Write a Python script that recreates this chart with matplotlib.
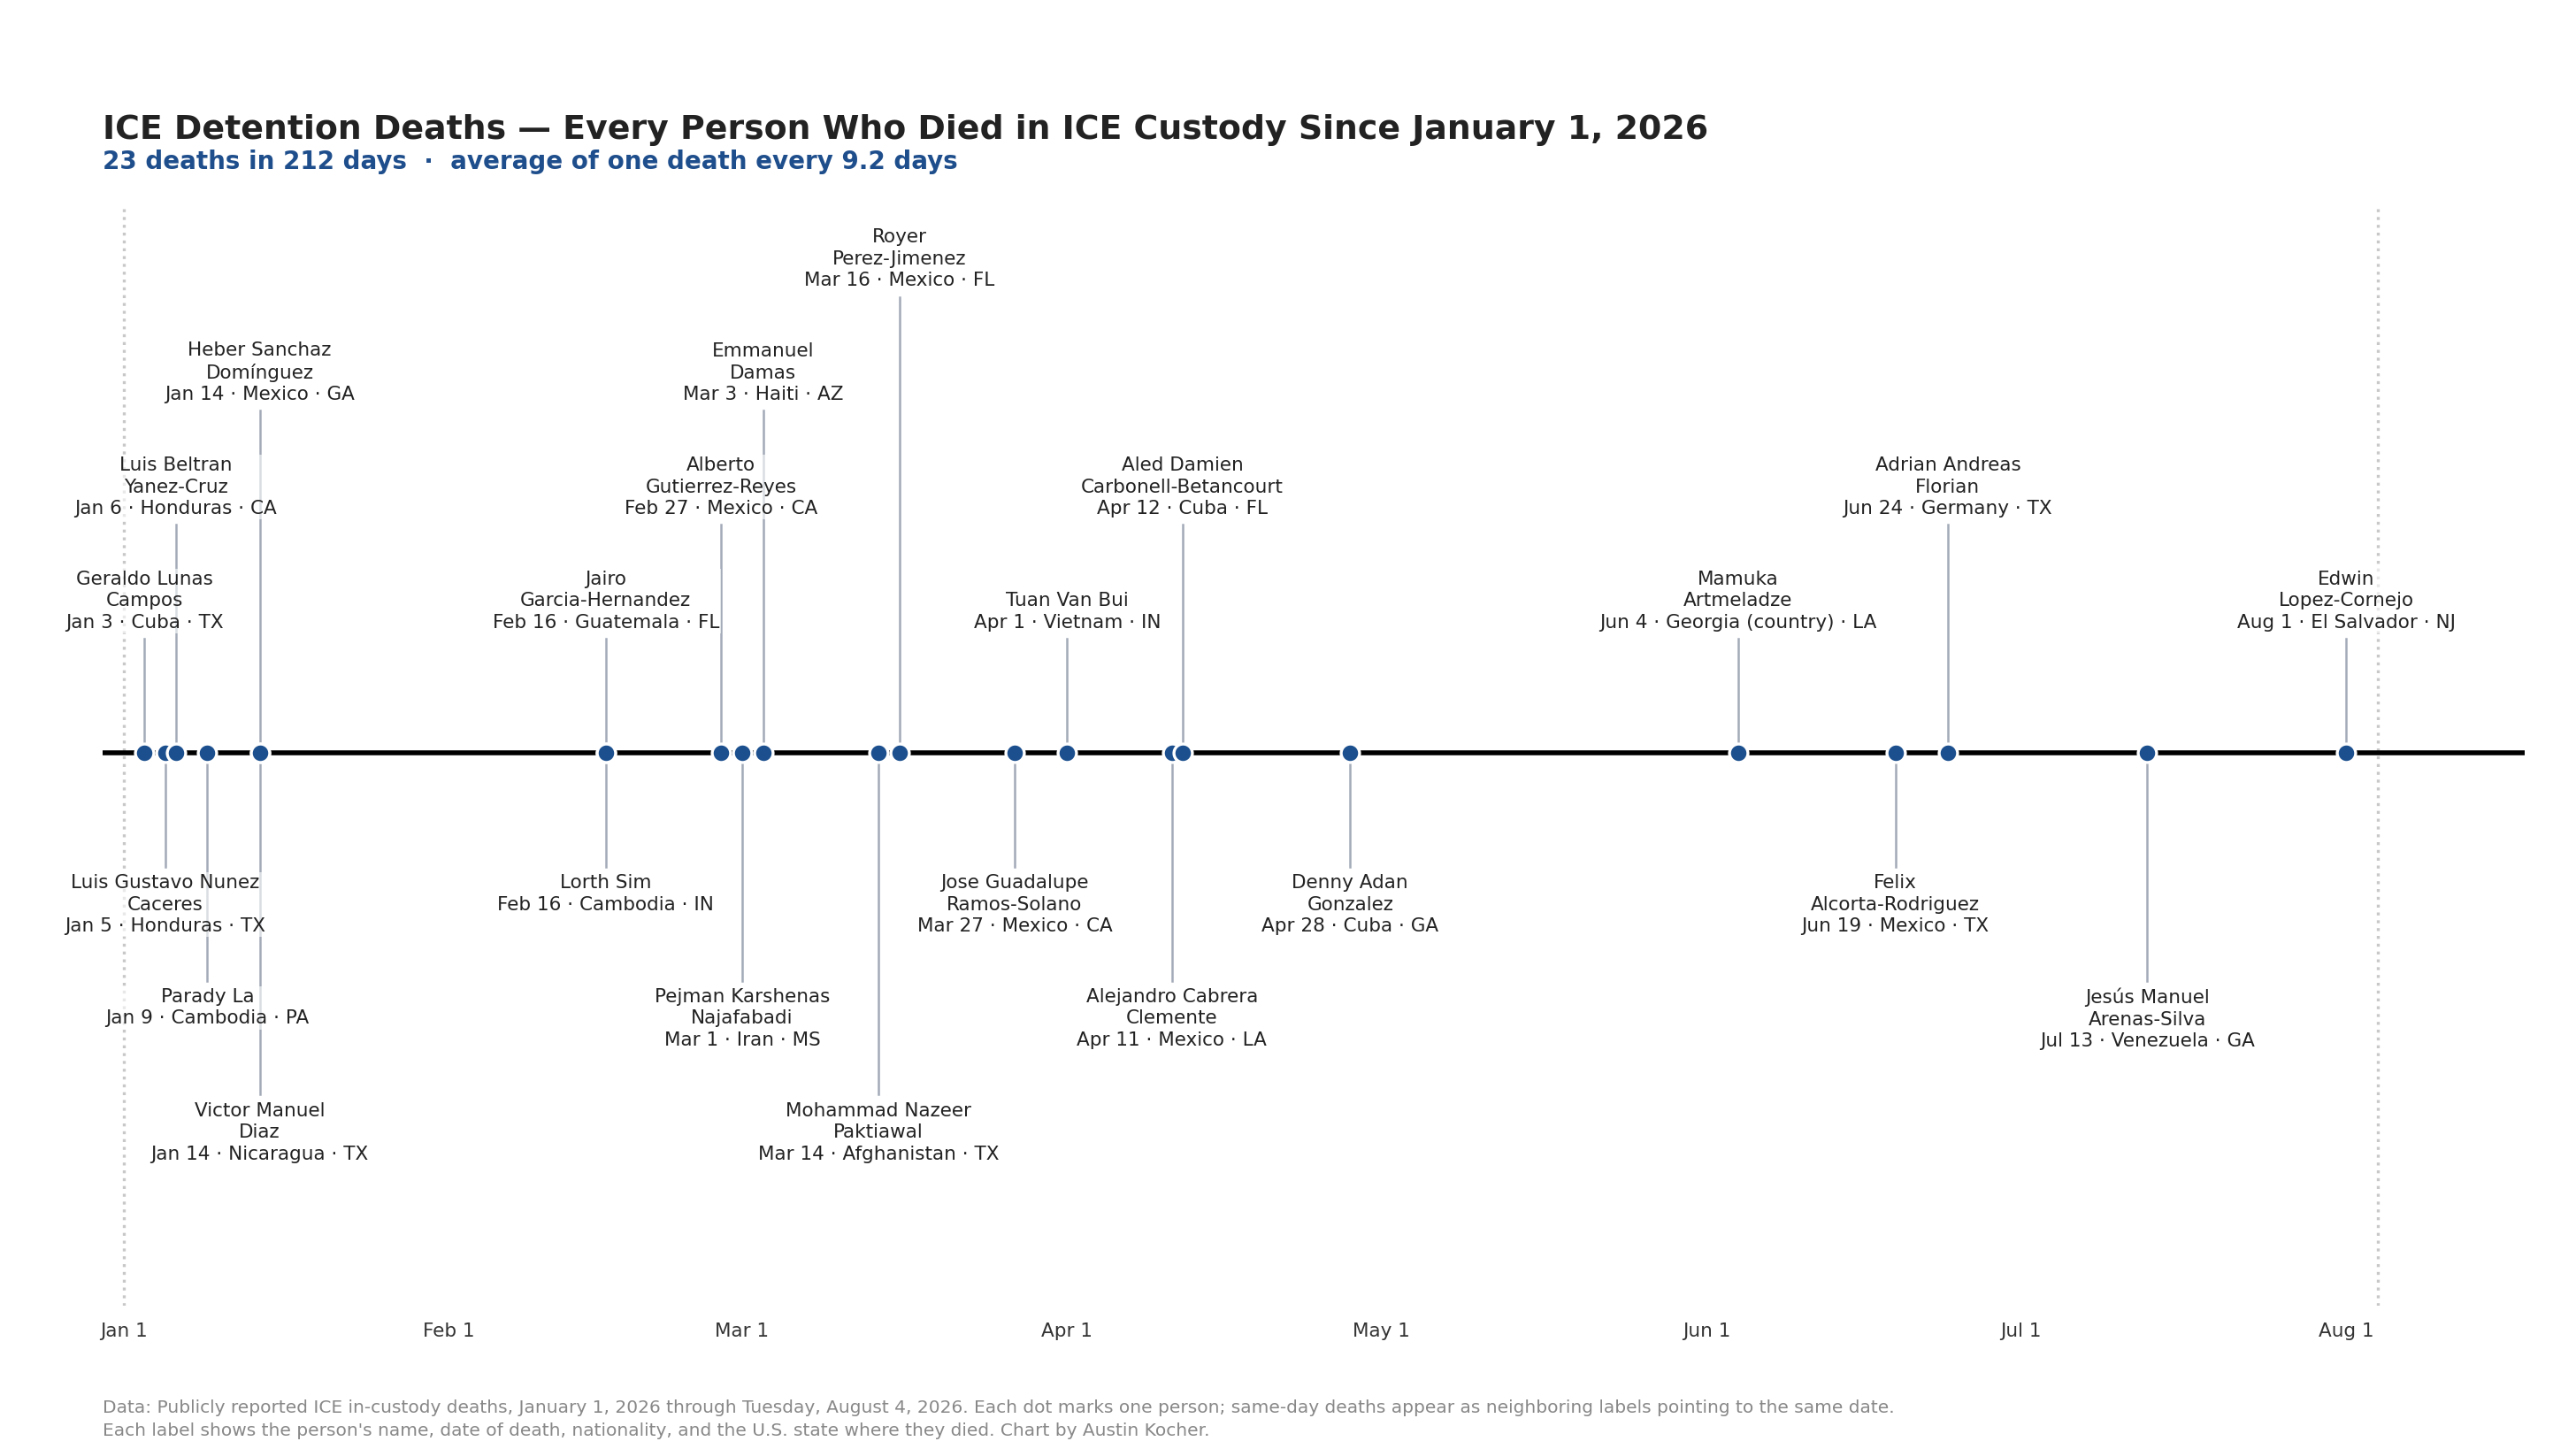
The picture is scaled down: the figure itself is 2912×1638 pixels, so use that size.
""" ICE custody deaths timeline, 2026 """
from datetime import datetime, timedelta
import matplotlib
matplotlib.use("Agg")
from matplotlib import pyplot as plt
import matplotlib.dates as mdates

# one entry per person, in date order
dates = ["2026-01-03", "2026-01-05", "2026-01-06", "2026-01-09", "2026-01-14",
         "2026-01-14", "2026-02-16", "2026-02-16", "2026-02-27", "2026-03-01",
         "2026-03-03", "2026-03-14", "2026-03-16", "2026-03-27", "2026-04-01",
         "2026-04-11", "2026-04-12", "2026-04-28", "2026-06-04", "2026-06-19",
         "2026-06-24", "2026-07-13", "2026-08-01"]
names = ["Geraldo Lunas\nCampos", "Luis Gustavo Nunez\nCaceres",
         "Luis Beltran\nYanez-Cruz", "Parady La", "Heber Sanchaz\nDomínguez",
         "Victor Manuel\nDiaz", "Jairo\nGarcia-Hernandez", "Lorth Sim",
         "Alberto\nGutierrez-Reyes", "Pejman Karshenas\nNajafabadi",
         "Emmanuel\nDamas", "Mohammad Nazeer\nPaktiawal", "Royer\nPerez-Jimenez",
         "Jose Guadalupe\nRamos-Solano", "Tuan Van Bui",
         "Alejandro Cabrera\nClemente", "Aled Damien\nCarbonell-Betancourt",
         "Denny Adan\nGonzalez", "Mamuka\nArtmeladze", "Felix\nAlcorta-Rodriguez",
         "Adrian Andreas\nFlorian", "Jesús Manuel\nArenas-Silva",
         "Edwin\nLopez-Cornejo"]
nationality = ["Cuba", "Honduras", "Honduras", "Cambodia", "Mexico", "Nicaragua",
               "Guatemala", "Cambodia", "Mexico", "Iran", "Haiti", "Afghanistan",
               "Mexico", "Mexico", "Vietnam", "Mexico", "Cuba", "Cuba",
               "Georgia (country)", "Mexico", "Germany", "Venezuela", "El Salvador"]
state = ["TX", "TX", "CA", "PA", "GA", "TX", "FL", "IN", "CA", "MS", "AZ", "TX",
         "FL", "CA", "IN", "LA", "FL", "GA", "LA", "TX", "TX", "GA", "NJ"]
# label tier: positive above the line, negative below
levels = [1, -1, 2, -2, 3, -3, 1, -1, 2, -2, 3, -3, 4, -1, 1, -2, 2, -1,
          1, -1, 2, -2, 1]

start = datetime(2026, 1, 1)
end = datetime(2026, 8, 4)
month_ticks = [datetime(2026, m, 1) for m in range(1, 9)]

dts = [datetime.strptime(d, "%Y-%m-%d") for d in dates]
n_days = (datetime(2026, 8, 1) - start).days
avg = n_days / len(dts)

dot_color = '#1b4f8e'
stem_color = '#a3abb8'

fig = plt.figure(figsize=(14.56, 8.19), dpi=200)
ax = fig.add_axes([0.040, 0.099, 0.940, 0.759])

ax.axhline(0, color='black', lw=2.0, zorder=2)
ax.axvline(start, color='#c8c8c8', lw=1.2, ls=':', zorder=1)
ax.axvline(end, color='#c8c8c8', lw=1.2, ls=':', zorder=1)

for d, name, nat, st, lv in zip(dts, names, nationality, state, levels):
    ax.plot([d, d], [0, lv], color=stem_color, lw=0.9, zorder=1)
    label = "%s\n%s · %s · %s" % (name, d.strftime("%b ") + str(d.day), nat, st)
    ax.annotate(label, xy=(d, lv), xytext=(0, 3 if lv > 0 else -3),
                textcoords='offset points', ha='center',
                va='bottom' if lv > 0 else 'top', fontsize=7.75, color='#222222',
                linespacing=1.28, zorder=3,
                bbox=dict(boxstyle='square,pad=0.1', fc='white', ec='none',
                          alpha=0.6))

ax.plot(dts, [0] * len(dts), 'o', ms=7.5, mfc=dot_color, mec='white',
        mew=1.2, zorder=4)

ax.set_xlim(start - timedelta(days=1.95), end + timedelta(days=14))
ax.set_ylim(-4.85, 4.8)
ax.set_yticks([])
ax.set_xticks(month_ticks)
ax.xaxis.set_major_formatter(mdates.DateFormatter('%b 1'))
ax.tick_params(axis='x', length=0, labelsize=7.75, labelcolor='#333333', pad=7)
for s in ax.spines.values():
    s.set_visible(False)

fig.text(0.040, 0.910, "ICE Detention Deaths — Every Person Who Died in ICE "
         "Custody Since January 1, 2026", fontsize=13.65, fontweight='bold',
         color='#222222', va='center')
fig.text(0.040, 0.888, "%d deaths in %d days  ·  average of one death every "
         "%.1f days" % (len(dts), n_days, avg), fontsize=10, fontweight='bold',
         color='#1f4e8c', va='center')
fig.text(0.040, 0.007, "Data: Publicly reported ICE in-custody deaths, January 1, "
         "2026 through Tuesday, August 4, 2026. Each dot marks one person; same-day "
         "deaths appear as neighboring labels pointing to the same date.\nEach label "
         "shows the person's name, date of death, nationality, and the U.S. state "
         "where they died. Chart by Austin Kocher.", fontsize=7.25, color='#888888',
         va='bottom', linespacing=1.45)

plt.savefig('out.png', dpi=200)
